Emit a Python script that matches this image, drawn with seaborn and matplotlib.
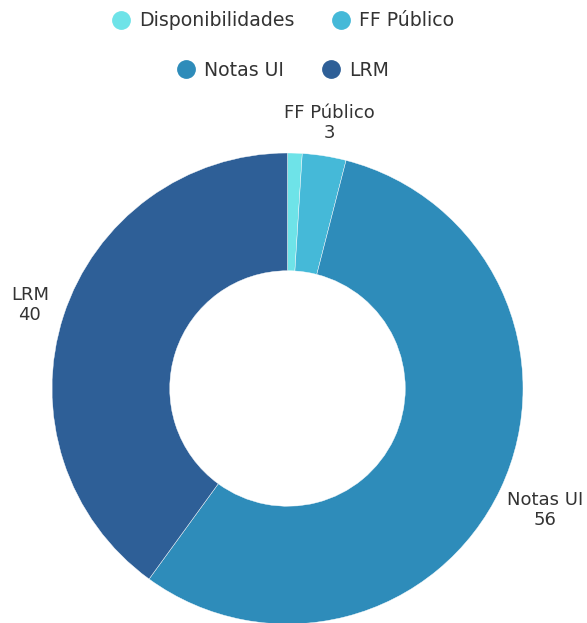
import matplotlib.pyplot as plt
from matplotlib.lines import Line2D
import seaborn as sns
import numpy as np

sns.set_theme(style="white")
plt.rcParams['font.family'] = ['DejaVu Sans']

categories = ["Disponibilidades", "FF Público", "Notas UI", "LRM"]
values = [1, 3, 56, 40]
colors = ["#6ee3e8", "#45b9d8", "#2e8cba", "#2e5f97"]
show_label = [False, True, True, True]
label_r = [1.14, 1.14, 1.21, 1.15]

fig = plt.figure(figsize=(5.87, 6.23), dpi=100)
W, H = 587, 623
cx, cy, r = 287.5, 388.5, 235.5
ax = fig.add_axes([(cx - r) / W, (H - cy - r) / H, 2 * r / W, 2 * r / H])

wedges, _ = ax.pie(values, colors=colors, startangle=90, counterclock=False,
                   radius=1, wedgeprops=dict(width=0.5, edgecolor="white", linewidth=0.3))
ax.set_xlim(-1, 1)
ax.set_ylim(-1, 1)
ax.set_aspect("equal")
ax.axis("off")

total = sum(values)
cum = np.cumsum([0] + values[:-1])
for i, (cat, v) in enumerate(zip(categories, values)):
    if not show_label[i]:
        continue
    mid = (cum[i] + v / 2) / total * 2 * np.pi
    x, y = np.sin(mid) * label_r[i], np.cos(mid) * label_r[i]
    ax.text(x, y, f"{cat}\n{v}", ha="center", va="center", fontsize=13,
            color="#333333", linespacing=1.12, clip_on=False)

def handle(c):
    return Line2D([], [], marker="o", color="none", markerfacecolor=c,
                  markeredgecolor=c, markersize=12.5)

lx = 283 / W
row1 = fig.legend([handle(colors[0]), handle(colors[1])], categories[:2], ncol=2,
                  loc="center", bbox_to_anchor=(lx, 1 - 21 / H), frameon=False,
                  fontsize=13.6, handletextpad=0.45, columnspacing=2.0, handlelength=1)
row2 = fig.legend([handle(colors[2]), handle(colors[3])], categories[2:], ncol=2,
                  loc="center", bbox_to_anchor=(lx, 1 - 70 / H), frameon=False,
                  fontsize=13.6, handletextpad=0.45, columnspacing=2.0, handlelength=1)
for lg in (row1, row2):
    for t in lg.get_texts():
        t.set_color("#333333")

fig.savefig("out.png", dpi=100)
